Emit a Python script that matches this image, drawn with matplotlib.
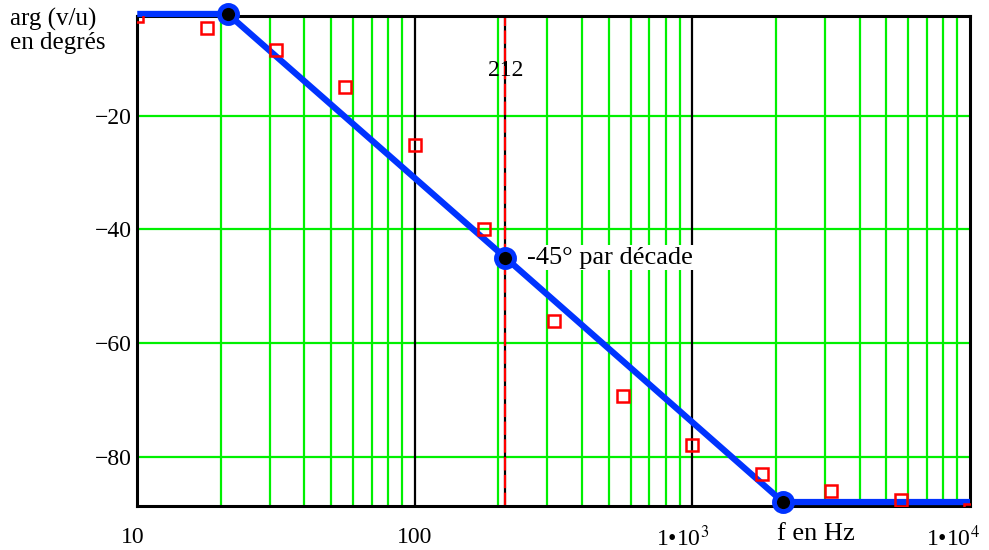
import numpy as np
import matplotlib.pyplot as plt

plt.switch_backend('Agg')
plt.rcParams['font.family'] = ['Liberation Serif', 'DejaVu Serif']
plt.rcParams['mathtext.fontset'] = 'stix'

# measured phase (red squares)
f_meas = [10, 17.8, 31.6, 56.2, 100, 178, 316, 562, 1000, 1780, 3160, 5620, 10000]
phi_meas = [-2.5, -4.5, -8.4, -14.9, -25.2, -39.9, -56.2, -69.3, -78.0,
            -83.1, -86.0, -87.6, -89.4]

# asymptotic diagram (blue)
f_asym = [10, 21.2, 212, 2120, 10000]
phi_asym = [0, 0, -45, -90, -90]
f_knee = [21.2, 212, 2120]
phi_knee = [0, -45, -90]
fc = 212

ylim = (-88.7, -2.46)
yticks = [-20, -40, -60, -80]
xticks = [10, 100, 1000, 10000]
xticklabels = ['10', '100', '1\u202210$^{3}$', '1\u202210$^{4}$']
xlabel_shift = [-3, 0, -7, -12]  # points, Mathcad places them a bit left

fig = plt.figure(figsize=(9.89, 5.5), dpi=100)
ax = fig.add_axes([0.1388, 0.08, 0.8420, 0.8909])
ax.set_xscale('log')
ax.set_xlim(10, 10000)
ax.set_ylim(ylim)

# grid: green minor lines, black decades
for dec in [10, 100, 1000]:
    for k in range(2, 10):
        ax.axvline(dec * k, color='#00f000', lw=1.6, zorder=1)
for y in yticks:
    ax.axhline(y, color='#00f000', lw=1.6, zorder=1)
for x in [100, 1000]:
    ax.axvline(x, color='black', lw=1.6, zorder=2)

# cut-off frequency
ax.axvline(fc, color='black', lw=1.6, zorder=2)
ax.axvline(fc, color='red', lw=1.6, dashes=(6, 2), zorder=2)
ax.text(fc, -12.0, '212', ha='center', va='center', fontsize=17, zorder=3)

# asymptotes, clipped to the plot area like the original
phi_a = np.clip(phi_asym, -88.0, -2.1)
phi_k = np.clip(phi_knee, -88.0, -2.1)
ax.plot(f_asym, phi_a, color='#0033ff', lw=4.5, clip_on=False, zorder=4,
        solid_capstyle='butt')
ax.plot(f_knee, phi_k, 'o', ms=13, mfc='black', mec='#0033ff', mew=3.5,
        clip_on=False, zorder=5)

ax.plot(f_meas, phi_meas, 's', ms=8, mfc='none', mec='red', mew=1.8,
        zorder=6)

ax.text(254, -45.0, '-45° par décade', ha='left', va='center', fontsize=19,
        zorder=7, bbox=dict(facecolor='white', edgecolor='none', pad=1))

ax.set_yticks(yticks)
ax.set_yticklabels(['\u2212%d' % -y for y in yticks], fontsize=17)
ax.set_xticks([])
ax.xaxis.set_minor_locator(plt.NullLocator())
ax.tick_params(length=0, pad=4)
for xt, lab, dx in zip(xticks, xticklabels, xlabel_shift):
    ax.annotate(lab, xy=(xt, 0), xycoords=('data', 'axes fraction'),
                xytext=(dx, -23), textcoords='offset points',
                ha='center', va='center', fontsize=17)
for sp in ax.spines.values():
    sp.set_linewidth(2.2)
    sp.set_zorder(3)

fig.text(0.010, 0.985, 'arg (v/u)\nen degrés', ha='left', va='top',
         fontsize=18, linespacing=1.05)
fig.text(0.825, 0.030, 'f en Hz', ha='center', va='center', fontsize=19)

plt.savefig('out.png')
plt.close()
